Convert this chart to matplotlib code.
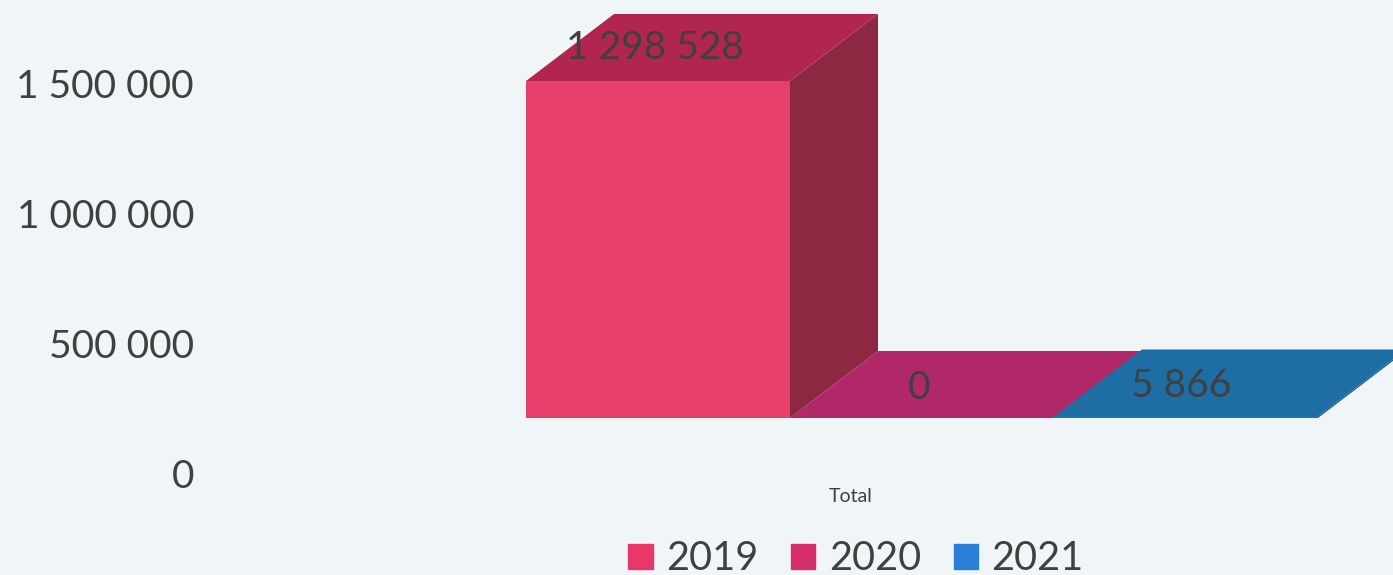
import matplotlib
matplotlib.use("Agg")
import matplotlib.pyplot as plt
from matplotlib.patches import Patch

plt.rcParams['font.family'] = ['Lato', 'DejaVu Sans']

years = ['2019', '2020', '2021']
values = [1298528, 0, 5866]
value_labels = ['1 298 528', '0', '5 866']
y_ticks = [0, 500000, 1000000, 1500000]
y_tick_labels = ['0', '500 000', '1 000 000', '1 500 000']

front_colors = ['#e73f6b', '#c22a68', '#2077ae']
top_colors = ['#b0264e', '#b02868', '#1e6ea3']
side_colors = ['#8c2842', '#8f2450', '#185a86']
legend_colors = ['#e8386a', '#d62d6c', '#2b7fd8']

W, H = 1393, 575
BG = '#f0f6f8'
TXT = '#404040'

px_per_val = 337 / 1298528
base_px = 418       # pixel row of the floor's front edge
left_px = 526
bar_px = 264
depth_x = 88 / bar_px
depth_y = 67 / px_per_val

fig = plt.figure(figsize=(W / 100, H / 100), dpi=100, facecolor=BG)
ax = fig.add_axes([0, 0, 1, 1])
ax.set_xlim(-left_px / bar_px, (W - left_px) / bar_px)
ax.set_ylim(-(H - base_px) / px_per_val, base_px / px_per_val)
ax.axis('off')

# fake 3D columns: side, top, then front face
for i, v in enumerate(values):
    x0, x1 = i, i + 1
    ax.fill([x1, x1 + depth_x, x1 + depth_x, x1],
            [0, depth_y, v + depth_y, v], color=side_colors[i], lw=0, zorder=2 + i)
    ax.fill([x0, x1, x1 + depth_x, x0 + depth_x],
            [v, v, v + depth_y, v + depth_y], color=top_colors[i], lw=0, zorder=2 + i)
    ax.fill([x0, x1, x1, x0], [0, 0, v, v], color=front_colors[i], lw=0, zorder=2 + i)

# value labels sit in the middle of each column's top
label_dx = [0.49, 0.49, 0.48]
label_dy = [0.49, 0.45, 0.46]
for i, v in enumerate(values):
    ax.text(i + label_dx[i], v + depth_y * label_dy[i], value_labels[i],
            ha='center', va='center', fontsize=28, color=TXT, zorder=10)

ax.text(851 / W, 1 - 497 / H, 'Total', transform=ax.transAxes, ha='center', va='center',
        fontsize=14, color=TXT)

# value axis is drawn on the wall, lower than the column base
ax_ticks = fig.add_axes([201 / W, 0, 0.001, 1])
ax_ticks.set_ylim(-(H - 473) / px_per_val, 473 / px_per_val)
ax_ticks.set_xticks([])
ax_ticks.set_yticks(y_ticks)
ax_ticks.set_yticklabels(y_tick_labels, fontsize=28, color=TXT)
ax_ticks.tick_params(axis='y', length=0, pad=5)
ax_ticks.patch.set_visible(False)
for s in ax_ticks.spines.values():
    s.set_visible(False)

handles = [Patch(color=c, label=y) for c, y in zip(legend_colors, years)]
ax.legend(handles=handles, loc='center', bbox_to_anchor=(856 / W, 1 - 559 / H),
          bbox_transform=fig.transFigure, ncol=3, frameon=False, fontsize=28.5,
          labelcolor=TXT, handlelength=0.62, handleheight=0.62, handletextpad=0.34,
          columnspacing=0.82, borderpad=0, borderaxespad=0)

fig.savefig('out.png', dpi=100, facecolor=BG)
